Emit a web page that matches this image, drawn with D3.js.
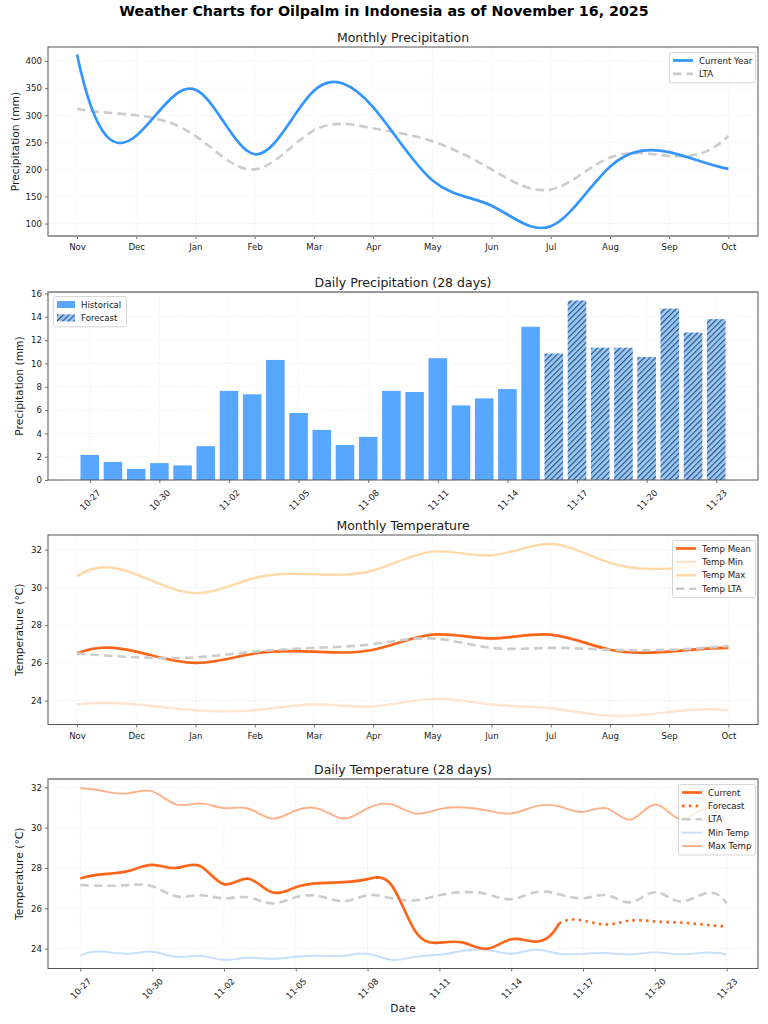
<!DOCTYPE html>
<html>
<head>
<meta charset="utf-8">
<script src="https://cdn.jsdelivr.net/npm/d3@7"></script>
<style>
  html, body { margin: 0; padding: 0; background: #fff; }
  svg { display: block; }
  text { font-family: "DejaVu Sans", sans-serif; fill: #1a1a1a; }
</style>
</head>
<body>
<svg id="chart" width="768" height="1024"></svg>
<script>
// values
var months = ['Nov', 'Dec', 'Jan', 'Feb', 'Mar', 'Apr', 'May', 'Jun', 'Jul', 'Aug', 'Sep', 'Oct'];
var precipCurrent = [412, 262, 347, 228, 345, 315, 180, 133, 95, 205, 232, 201];
var precipLta = [312, 300, 262, 200, 272, 276, 252, 200, 163, 222, 225, 262];
var tempMean = [26.5, 26.6, 26.0, 26.5, 26.6, 26.7, 27.5, 27.3, 27.5, 26.7, 26.6, 26.8];
var tempMin = [23.8, 23.8, 23.5, 23.5, 23.8, 23.7, 24.1, 23.8, 23.6, 23.2, 23.4, 23.5];
var tempMax = [30.6, 30.7, 29.7, 30.5, 30.7, 30.9, 31.9, 31.7, 32.3, 31.3, 31.0, 31.3];
var tempLta = [26.5, 26.3, 26.3, 26.6, 26.8, 27.0, 27.3, 26.8, 26.8, 26.7, 26.7, 26.9];

var days = ['10-27', '10-28', '10-29', '10-30', '10-31', '11-01', '11-02', '11-03', '11-04', '11-05',
  '11-06', '11-07', '11-08', '11-09', '11-10', '11-11', '11-12', '11-13', '11-14', '11-15',
  '11-16', '11-17', '11-18', '11-19', '11-20', '11-21', '11-22', '11-23'];
var dayTicks = ['10-27', '10-30', '11-02', '11-05', '11-08', '11-11', '11-14', '11-17', '11-20', '11-23'];
var rainHistorical = [2.15, 1.55, 0.95, 1.45, 1.25, 2.9, 7.65, 7.35, 10.3, 5.75, 4.3, 3.0, 3.7, 7.65, 7.55, 10.45, 6.4, 7.0, 7.8, 13.15];
var rainForecast = [10.85, 15.4, 11.35, 11.35, 10.55, 14.7, 12.65, 13.8];
var dailyCurrent = [27.48, 27.7, 27.85, 28.15, 28.0, 28.1, 27.2, 27.47, 26.8, 27.05, 27.25, 27.3, 27.45, 27.15, 24.85, 24.3, 24.3, 24.0, 24.47, 24.35, 25.25];
var dailyForecast = [25.25, 25.4, 25.2, 25.4, 25.35, 25.3, 25.2, 25.1];
var dailyLta = [27.15, 27.12, 27.15, 27.1, 26.6, 26.65, 26.5, 26.55, 26.25, 26.55, 26.6, 26.35, 26.65, 26.5, 26.4, 26.65, 26.8, 26.7, 26.45, 26.8, 26.7, 26.5, 26.65, 26.3, 26.8, 26.35, 26.7, 26.25];
var dailyMin = [23.65, 23.85, 23.75, 23.85, 23.6, 23.65, 23.45, 23.55, 23.5, 23.6, 23.65, 23.65, 23.75, 23.45, 23.6, 23.7, 23.9, 23.95, 23.75, 23.95, 23.75, 23.75, 23.78, 23.72, 23.82, 23.72, 23.8, 23.7];
var dailyMax = [31.95, 31.8, 31.7, 31.8, 31.15, 31.2, 30.97, 30.95, 30.45, 30.85, 30.92, 30.45, 30.95, 31.15, 30.7, 30.92, 31.0, 30.85, 30.7, 31.05, 31.05, 30.78, 30.95, 30.4, 31.15, 30.45, 30.9, 30.05];

var svg = d3.select('#chart');
var left = 48, right = 758;

var defs = svg.append('defs');
defs.append('pattern')
  .attr('id', 'hatch')
  .attr('patternUnits', 'userSpaceOnUse')
  .attr('width', 4).attr('height', 4)
  .attr('patternTransform', 'rotate(45)')
  .append('rect')
  .attr('width', 1.15).attr('height', 4)
  .attr('fill', '#33506e');

// not-a-knot cubic spline, the d3 curves only have natural end conditions
function curveNotAKnot(context) {
  var xs, ys;
  return {
    lineStart: function() { xs = []; ys = []; },
    point: function(x, y) { xs.push(+x); ys.push(+y); },
    lineEnd: function() {
      var n = xs.length, m = slopes(ys), dx;
      context.moveTo(xs[0], ys[0]);
      for (var i = 0; i < n - 1; i++) {
        dx = (xs[i + 1] - xs[i]) / 3;
        context.bezierCurveTo(xs[i] + dx, ys[i] + m[i] / 3, xs[i + 1] - dx, ys[i + 1] - m[i + 1] / 3, xs[i + 1], ys[i + 1]);
      }
    },
    areaStart: function() {},
    areaEnd: function() {}
  };
}

function slopes(v) {
  var n = v.length, a = [], i, j, k;
  for (i = 0; i < n; i++) {
    a.push(d3.range(n + 1).map(function() { return 0; }));
  }
  a[0][0] = 1; a[0][2] = -1; a[0][n] = 2 * (2 * v[1] - v[0] - v[2]);
  a[n - 1][n - 3] = 1; a[n - 1][n - 1] = -1; a[n - 1][n] = 2 * (2 * v[n - 2] - v[n - 3] - v[n - 1]);
  for (i = 1; i < n - 1; i++) {
    a[i][i - 1] = 1; a[i][i] = 4; a[i][i + 1] = 1;
    a[i][n] = 3 * (v[i + 1] - v[i - 1]);
  }
  for (i = 0; i < n; i++) {
    var p = i;
    for (j = i + 1; j < n; j++) if (Math.abs(a[j][i]) > Math.abs(a[p][i])) p = j;
    var t = a[i]; a[i] = a[p]; a[p] = t;
    for (j = 0; j < n; j++) {
      if (j === i) continue;
      var f = a[j][i] / a[i][i];
      for (k = i; k <= n; k++) a[j][k] -= f * a[i][k];
    }
  }
  return a.map(function(r, idx) { return r[n] / r[idx]; });
}

svg.append('text')
  .attr('x', 384).attr('y', 16)
  .attr('text-anchor', 'middle')
  .style('font-size', '14.25px').style('font-weight', 'bold')
  .style('fill', '#000')
  .text('Weather Charts for Oilpalm in Indonesia as of November 16, 2025');

function panel(cfg) {
  var g = svg.append('g');
  var y = d3.scaleLinear().domain(cfg.yDomain).range([cfg.bottom, cfg.top]);
  var x = d3.scaleLinear().domain(cfg.xDomain).range([left, right]);

  // grid
  g.append('g').selectAll('line').data(cfg.xTickIdx).join('line')
    .attr('x1', function(d) { return x(d); }).attr('x2', function(d) { return x(d); })
    .attr('y1', cfg.top).attr('y2', cfg.bottom)
    .attr('stroke', '#000').attr('stroke-opacity', 0.07).attr('stroke-width', 0.7).attr('stroke-dasharray', '2,1.5');
  g.append('g').selectAll('line').data(cfg.yTicks).join('line')
    .attr('x1', left).attr('x2', right)
    .attr('y1', function(d) { return y(d); }).attr('y2', function(d) { return y(d); })
    .attr('stroke', '#000').attr('stroke-opacity', 0.07).attr('stroke-width', 0.7).attr('stroke-dasharray', '2,1.5');

  // axes
  var yAxis = g.append('g').attr('transform', 'translate(' + left + ',0)')
    .call(d3.axisLeft(y).tickValues(cfg.yTicks).tickSize(3).tickPadding(3).tickFormat(d3.format('d')));
  var xAxis = g.append('g').attr('transform', 'translate(0,' + cfg.bottom + ')')
    .call(d3.axisBottom(x).tickValues(cfg.xTickIdx).tickSize(3).tickPadding(5)
      .tickFormat(function(d) { return cfg.xLabels[d]; }));
  [xAxis, yAxis].forEach(function(a) {
    a.select('.domain').remove();
    a.selectAll('line').attr('stroke', '#333').attr('stroke-width', 0.7);
    a.selectAll('text').style('font-size', '8.6px').style('font-family', '"DejaVu Sans", sans-serif').attr('fill', '#1a1a1a');
  });
  if (cfg.rotate) {
    xAxis.selectAll('text')
      .attr('text-anchor', 'middle')
      .attr('y', 0).attr('dy', '0.35em')
      .attr('transform', 'translate(0,20) rotate(-45)');
  }

  svg.append('text')
    .attr('x', 403).attr('y', cfg.top - 5)
    .attr('text-anchor', 'middle')
    .style('font-size', '12.5px')
    .text(cfg.title);
  svg.append('text')
    .attr('transform', 'translate(' + cfg.yLabelX + ',' + ((cfg.top + cfg.bottom) / 2) + ') rotate(-90)')
    .attr('text-anchor', 'middle')
    .style('font-size', '10.7px')
    .text(cfg.yLabel);

  return {g: g, x: x, y: y, top: cfg.top, bottom: cfg.bottom, thick: cfg.thick};
}

function frame(p) {
  p.g.append('rect')
    .attr('x', left).attr('y', p.top)
    .attr('width', right - left).attr('height', p.bottom - p.top)
    .attr('fill', 'none').attr('stroke', '#555').attr('stroke-width', 1);
  if (p.thick) {
    // the resampled reference shows this edge wider and paler
    p.g.append('line')
      .attr('x1', left).attr('x2', right)
      .attr('y1', p[p.thick]).attr('y2', p[p.thick])
      .attr('stroke', '#999').attr('stroke-width', 2);
  }
}

function drawLine(p, values, style, offset) {
  var line = d3.line()
    .x(function(d, i) { return p.x(i + (offset || 0)); })
    .y(function(d) { return p.y(d); })
    .curve(curveNotAKnot);
  p.g.append('path')
    .attr('d', line(values))
    .attr('fill', 'none')
    .attr('stroke', style.color)
    .attr('stroke-width', style.width)
    .attr('stroke-dasharray', style.dash || null)
    .attr('stroke-linecap', style.cap || 'butt');
}

function legend(x, y, w, items) {
  var rowH = 13.4;
  var g = svg.append('g').attr('transform', 'translate(' + x + ',' + y + ')');
  g.append('rect')
    .attr('x', 0.5).attr('y', 0.5)
    .attr('width', w).attr('height', items.length * rowH + 3.5)
    .attr('rx', 2)
    .attr('fill', '#fff').attr('fill-opacity', 0.8)
    .attr('stroke', '#ccc').attr('stroke-width', 0.8);
  items.forEach(function(it, i) {
    var cy = 8.5 + i * rowH;
    if (it.swatch) {
      g.append('rect')
        .attr('x', 4).attr('y', cy - 3.5).attr('width', 18).attr('height', 7)
        .attr('fill', it.swatch);
      if (it.hatched) {
        g.append('rect')
          .attr('x', 4).attr('y', cy - 3.5).attr('width', 18).attr('height', 7)
          .attr('fill', 'url(#hatch)');
      }
    } else {
      g.append('line')
        .attr('x1', 4).attr('x2', 24).attr('y1', cy).attr('y2', cy)
        .attr('stroke', it.style.color)
        .attr('stroke-width', it.style.width)
        .attr('stroke-dasharray', it.style.dash || null)
        .attr('stroke-linecap', it.style.cap || 'butt');
    }
    g.append('text')
      .attr('x', it.swatch ? 28 : 30).attr('y', cy + 3)
      .style('font-size', '8.6px')
      .text(it.label);
  });
}

var monthIdx = d3.range(months.length);
var dayIdx = dayTicks.map(function(d) { return days.indexOf(d); });
var ltaStyle = {color: '#cccccc', width: 2.6, dash: '8.5,5'};

// Monthly Precipitation
var p1 = panel({title: 'Monthly Precipitation', yLabel: 'Precipitation (mm)', yLabelX: 19,
  top: 47, bottom: 236, yDomain: [77, 426], xDomain: [-0.49, 11.5], thick: 'bottom',
  yTicks: [100, 150, 200, 250, 300, 350, 400], xTickIdx: monthIdx, xLabels: months});
var blueStyle = {color: '#3395ff', width: 2.7};
drawLine(p1, precipLta, ltaStyle);
drawLine(p1, precipCurrent, blueStyle);
frame(p1);
legend(669, 52, 86, [
  {label: 'Current Year', style: blueStyle},
  {label: 'LTA', style: ltaStyle}
]);

// Daily Precipitation
var p2 = panel({title: 'Daily Precipitation (28 days)', yLabel: 'Precipitation (mm)', yLabelX: 23,
  top: 292, bottom: 480, yDomain: [0, 16.13], xDomain: [-1.8, 28.8], thick: 'top',
  yTicks: [0, 2, 4, 6, 8, 10, 12, 14, 16], xTickIdx: dayIdx, xLabels: days, rotate: true});
var barW = (p2.x(0.8) - p2.x(0));
p2.g.append('g').selectAll('rect').data(rainHistorical).join('rect')
  .attr('x', function(d, i) { return p2.x(i) - barW / 2; })
  .attr('y', function(d) { return p2.y(d); })
  .attr('width', barW)
  .attr('height', function(d) { return p2.y(0) - p2.y(d); })
  .attr('fill', '#57a6ff');
['#98c9fc', 'url(#hatch)'].forEach(function(fill) {
  p2.g.append('g').selectAll('rect').data(rainForecast).join('rect')
    .attr('x', function(d, i) { return p2.x(rainHistorical.length + i) - barW / 2; })
    .attr('y', function(d) { return p2.y(d); })
    .attr('width', barW)
    .attr('height', function(d) { return p2.y(0) - p2.y(d); })
    .attr('fill', fill);
});
frame(p2);
legend(53, 296, 73, [
  {label: 'Historical', swatch: '#57a6ff'},
  {label: 'Forecast', swatch: '#98c9fc', hatched: true}
]);

// Monthly Temperature
var p3 = panel({title: 'Monthly Temperature', yLabel: 'Temperature (°C)', yLabelX: 23,
  top: 535, bottom: 724.5, yDomain: [22.74, 32.78], xDomain: [-0.49, 11.5],
  yTicks: [24, 26, 28, 30, 32], xTickIdx: monthIdx, xLabels: months});
var meanStyle = {color: '#ff661a', width: 2.7};
var minStyle = {color: '#ffe5cf', width: 2.4};
var maxStyle = {color: '#ffd9a8', width: 2.4};
drawLine(p3, tempMin, minStyle);
drawLine(p3, tempMax, maxStyle);
drawLine(p3, tempMean, meanStyle);
drawLine(p3, tempLta, ltaStyle);
frame(p3);
legend(672, 540, 83, [
  {label: 'Temp Mean', style: meanStyle},
  {label: 'Temp Min', style: minStyle},
  {label: 'Temp Max', style: maxStyle},
  {label: 'Temp LTA', style: ltaStyle}
]);

// Daily Temperature
var p4 = panel({title: 'Daily Temperature (28 days)', yLabel: 'Temperature (°C)', yLabelX: 23,
  top: 779, bottom: 968.5, yDomain: [23.02, 32.41], xDomain: [-1.35, 28.31], thick: 'top',
  yTicks: [24, 26, 28, 30, 32], xTickIdx: dayIdx, xLabels: days, rotate: true});
var dotStyle = {color: '#ff661a', width: 2.6, dash: '2.6,4.2'};
var dMinStyle = {color: '#c4e0ff', width: 1.9};
var dMaxStyle = {color: '#ffb088', width: 1.9};
drawLine(p4, dailyLta, ltaStyle);
drawLine(p4, dailyMin, dMinStyle);
drawLine(p4, dailyMax, dMaxStyle);
drawLine(p4, dailyCurrent, meanStyle);
drawLine(p4, dailyForecast, dotStyle, dailyCurrent.length - 1);
frame(p4);
legend(678, 784, 77, [
  {label: 'Current', style: meanStyle},
  {label: 'Forecast', style: dotStyle},
  {label: 'LTA', style: ltaStyle},
  {label: 'Min Temp', style: dMinStyle},
  {label: 'Max Temp', style: dMaxStyle}
]);

svg.append('text')
  .attr('x', 403).attr('y', 1012)
  .attr('text-anchor', 'middle')
  .style('font-size', '10.7px')
  .text('Date');
</script>
</body>
</html>
